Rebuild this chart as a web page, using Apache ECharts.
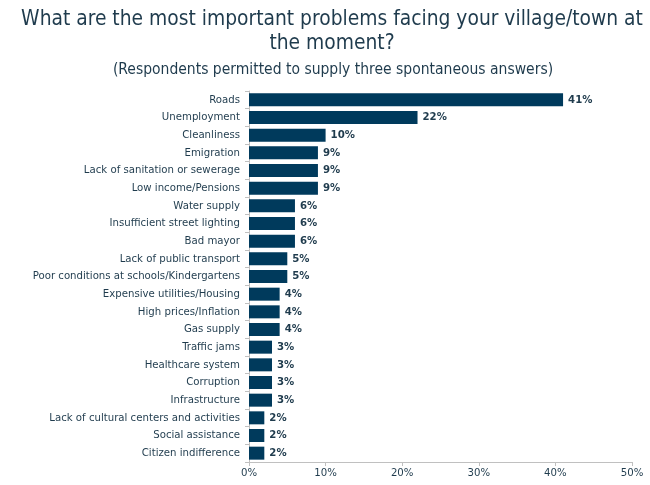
<!DOCTYPE html>
<html><head><meta charset="utf-8">
<script src="https://cdn.jsdelivr.net/npm/echarts@6/dist/echarts.min.js"></script>
<style>html,body{margin:0;padding:0;background:#fff}#c{width:650px;height:485px}</style>
</head><body><div id="c"></div>
<script>
const categories = ["Roads","Unemployment","Cleanliness","Emigration","Lack of sanitation or sewerage","Low income/Pensions","Water supply","Insufficient street lighting","Bad mayor","Lack of public transport","Poor conditions at schools/Kindergartens","Expensive utilities/Housing","High prices/Inflation","Gas supply","Traffic jams","Healthcare system","Corruption","Infrastructure","Lack of cultural centers and activities","Social assistance","Citizen indifference"];
const values = [41,22,10,9,9,9,6,6,6,5,5,4,4,4,3,3,3,3,2,2,2];
const xTicks = [0,10,20,30,40,50];
const FONT = "DejaVu Sans Condensed";
const TXT = "#1f3b4d";
const chart = echarts.init(document.getElementById('c'));
chart.setOption({
  animation:false,
  title:[{text:"What are the most important problems facing your village/town at\nthe moment?",left:327,textAlign:'center',top:3,textStyle:{fontFamily:FONT,fontSize:20.8,fontWeight:'normal',color:TXT,lineHeight:24}},
         {text:"(Respondents permitted to supply three spontaneous answers)",left:328,textAlign:'center',top:57,textStyle:{fontFamily:FONT,fontSize:15.5,fontWeight:'normal',color:TXT}}],
  grid:{left:249,right:18,top:91,bottom:23,containLabel:false},
  xAxis:{type:'value',min:xTicks[0],max:xTicks[xTicks.length-1],interval:10,
    axisLine:{show:true,lineStyle:{color:'#c0c0c0'}},axisTick:{show:true,length:4,lineStyle:{color:'#c0c0c0'}},
    splitLine:{show:false},axisLabel:{formatter:'{value}%',fontFamily:FONT,fontSize:11.3,color:TXT,margin:6}},
  yAxis:{type:'category',inverse:true,data:categories,
    axisLine:{show:true,lineStyle:{color:'#c0c0c0'}},axisTick:{show:true,length:4,lineStyle:{color:'#c0c0c0'}},
    axisLabel:{fontFamily:FONT,fontSize:11.3,color:TXT,margin:9}},
  series:[{type:'bar',data:values,barWidth:13,itemStyle:{color:'#003a5c'},
    label:{show:true,position:'right',formatter:'{c}%',fontFamily:FONT,fontSize:11.3,fontWeight:'bold',color:TXT,distance:5}}]
});
</script></body></html>
